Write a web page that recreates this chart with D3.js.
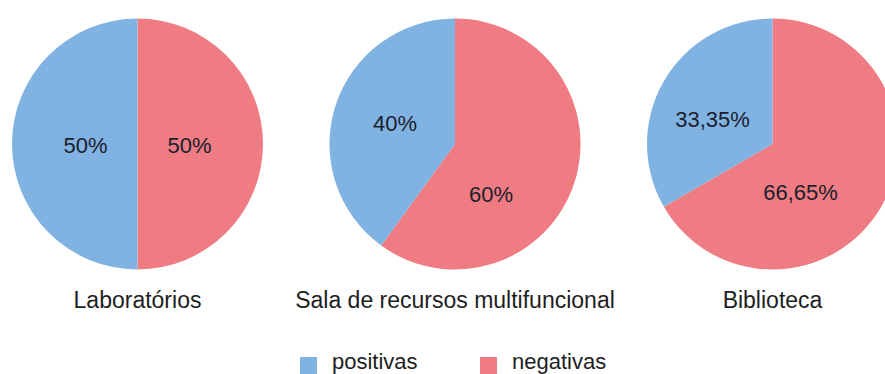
<!DOCTYPE html>
<html>
<head>
<meta charset="utf-8">
<script src="https://cdn.jsdelivr.net/npm/d3@7"></script>
<style>
  html, body { margin: 0; padding: 0; background: #ffffff; }
  svg { display: block; }
  text { font-family: "Liberation Sans", Arial, Helvetica, sans-serif; }
</style>
</head>
<body>
<svg id="chart" width="885" height="374"></svg>
<script>
// Survey answers per school space (percent)
const categories = ["Laboratórios", "Sala de recursos multifuncional", "Biblioteca"];
const seriesNames = ["positivas", "negativas"];
const positivas = [50, 40, 33.35];
const negativas = [50, 60, 66.65];

// Series colours
const colors = { positivas: "#80b2e2", negativas: "#ee7c82" };

// Label offsets from each pie centre, [x, y] for positivas / negativas
const labelOffsets = [
  { positivas: [-52, 1],   negativas: [52, 1] },
  { positivas: [-60, -21], negativas: [36, 50] },
  { positivas: [-60, -25], negativas: [28, 48] }
];

const W = 885, H = 374;
const radius = 125.5;
const cy = 144;

const svg = d3.select("#chart");

const x = d3.scalePoint().domain(categories).range([137.5, 772.5]);

const pie = d3.pie()
  .sort(null)
  .value(d => d.value)
  .startAngle(0)
  .endAngle(2 * Math.PI);

const arc = d3.arc().innerRadius(0).outerRadius(radius);

const fmt = v => String(v).replace(".", ",") + "%";

categories.forEach((cat, i) => {
  // negativas runs clockwise from 12 o'clock, positivas fills the rest
  const slices = [
    { key: "negativas", value: negativas[i] },
    { key: "positivas", value: positivas[i] }
  ];
  const g = svg.append("g").attr("transform", `translate(${x(cat)},${cy})`);

  g.selectAll("path")
    .data(pie(slices))
    .join("path")
    .attr("d", arc)
    .attr("fill", d => colors[d.data.key]);

  g.selectAll("text.val")
    .data(slices)
    .join("text")
    .attr("class", "val")
    .attr("x", d => labelOffsets[i][d.key][0])
    .attr("y", d => labelOffsets[i][d.key][1])
    .attr("dy", "0.36em")
    .attr("text-anchor", "middle")
    .attr("font-size", 22)
    .attr("fill", "#1b1e2c")
    .text(d => fmt(d.value));

  svg.append("text")
    .attr("x", x(cat))
    .attr("y", 307.5)
    .attr("text-anchor", "middle")
    .attr("font-size", 23)
    .attr("fill", "#1e1e1e")
    .text(cat);
});

// Legend
const legendX = d3.scaleOrdinal().domain(seriesNames).range([300, 480]);
const legend = svg.selectAll("g.legend")
  .data(seriesNames)
  .join("g")
  .attr("class", "legend")
  .attr("transform", d => `translate(${legendX(d)},357)`);

legend.append("rect")
  .attr("width", 17)
  .attr("height", 17)
  .attr("fill", d => colors[d]);

legend.append("text")
  .attr("x", 32)
  .attr("y", 11.5)
  .attr("font-size", 22)
  .attr("fill", "#1e1e1e")
  .text(d => d);
</script>
</body>
</html>
